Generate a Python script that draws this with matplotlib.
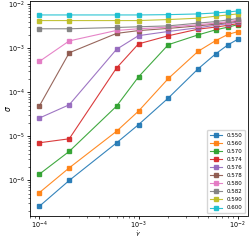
import matplotlib
matplotlib.use("Agg")
import matplotlib.pyplot as plt

gamma_dot = [1e-4, 2e-4, 6e-4, 1e-3, 2e-3, 4e-3, 6e-3, 8e-3, 1e-2]
labels = ["0.550", "0.560", "0.570", "0.574", "0.576", "0.578", "0.580", "0.582", "0.590", "0.600"]

s_550 = [2.6e-7, 1.0e-6, 7.1e-6, 1.84e-5, 7.4e-5, 3.4e-4, 7.4e-4, 1.19e-3, 1.58e-3]
s_560 = [5.3e-7, 1.93e-6, 1.3e-5, 3.73e-5, 2.05e-4, 8.5e-4, 1.48e-3, 2.05e-3, 2.36e-3]
s_570 = [1.39e-6, 4.56e-6, 4.83e-5, 2.23e-4, 1.2e-3, 2.0e-3, 2.6e-3, 3.0e-3, 3.4e-3]
s_574 = [7.15e-6, 8.8e-6, 3.54e-4, 1.25e-3, 1.91e-3, 2.7e-3, 3.0e-3, 3.3e-3, 3.6e-3]
s_576 = [2.6e-5, 5.2e-5, 9.4e-4, 1.92e-3, 2.39e-3, 2.9e-3, 3.3e-3, 3.6e-3, 3.9e-3]
s_578 = [4.9e-5, 7.85e-4, 2.16e-3, 2.5e-3, 2.8e-3, 3.2e-3, 3.5e-3, 3.8e-3, 4.1e-3]
s_580 = [5.0e-4, 1.46e-3, 2.52e-3, 2.75e-3, 3.0e-3, 3.4e-3, 3.7e-3, 4.0e-3, 4.3e-3]
s_582 = [2.75e-3, 2.75e-3, 2.94e-3, 3.05e-3, 3.2e-3, 3.7e-3, 4.0e-3, 4.37e-3, 4.68e-3]
s_590 = [4.22e-3, 4.22e-3, 4.22e-3, 4.22e-3, 4.45e-3, 4.78e-3, 5.3e-3, 5.66e-3, 5.97e-3]
s_600 = [5.66e-3, 5.66e-3, 5.66e-3, 5.66e-3, 5.75e-3, 5.97e-3, 6.28e-3, 6.6e-3, 6.97e-3]

series = [s_550, s_560, s_570, s_574, s_576, s_578, s_580, s_582, s_590, s_600]
colors = plt.rcParams['axes.prop_cycle'].by_key()['color']

fig = plt.figure(figsize=(2.5, 2.4), dpi=100)
ax = fig.add_axes([0.118, 0.1, 0.872, 0.895])
for lab, vals, c in zip(labels, series, colors):
    ax.plot(gamma_dot, vals, marker='s', markersize=3.4, linewidth=0.8,
            color=c, label=lab, alpha=0.9)
ax.set_xscale('log')
ax.set_yscale('log')
ax.tick_params(labelsize=4.7, width=0.6, length=2.5, pad=1.2)
ax.tick_params(axis='x', pad=0.4)
ax.tick_params(which='minor', width=0.4, length=1.5)
for sp in ax.spines.values():
    sp.set_linewidth(0.6)
ax.set_xlabel(r'$\dot{\gamma}$', fontsize=4.6, va='center')
ax.set_ylabel(r'$\sigma$', fontsize=5.5, va='center')
ax.xaxis.set_label_coords(0.5, -0.084)
ax.yaxis.set_label_coords(-0.098, 0.5)
ax.legend(loc='lower right', fontsize=4, handlelength=2.2, borderpad=0.5,
          labelspacing=0.55, frameon=True, framealpha=0.8)
fig.savefig("out.png", dpi=100)
